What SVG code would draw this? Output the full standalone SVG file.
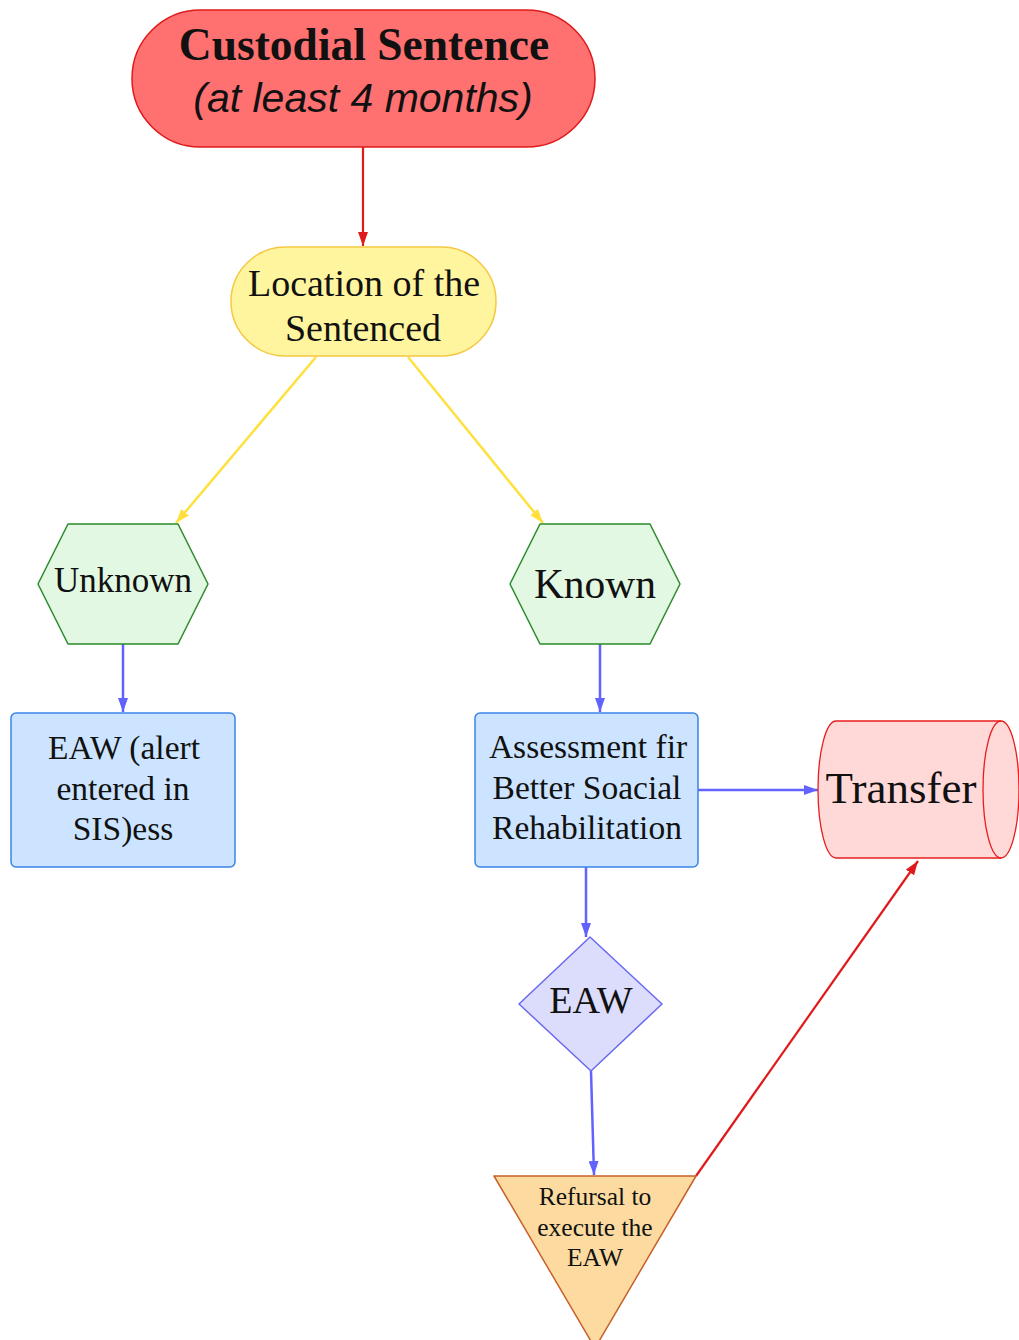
<svg xmlns="http://www.w3.org/2000/svg" width="1019" height="1340" viewBox="0 0 1019 1340">
<defs>
<style>
.serif{font-family:"Liberation Serif","Times New Roman",serif;fill:#111;text-anchor:middle}
.sans{font-family:"Liberation Sans",Arial,sans-serif;fill:#111;text-anchor:middle}
.red{stroke:#e01a1a;stroke-width:2.2;fill:none}
.blue{stroke:#6262ff;stroke-width:2.5;fill:none}
.yellow{stroke:#ffe03c;stroke-width:2.5;fill:none}
</style>
<marker id="ar" viewBox="0 0 14 10" refX="14" refY="5" markerWidth="14" markerHeight="10" markerUnits="userSpaceOnUse" orient="auto"><path d="M0,0L14,5L0,10z" fill="#e01a1a"/></marker>
<marker id="ab" viewBox="0 0 14 10" refX="14" refY="5" markerWidth="14" markerHeight="10" markerUnits="userSpaceOnUse" orient="auto"><path d="M0,0L14,5L0,10z" fill="#6262ff"/></marker>
<marker id="ay" viewBox="0 0 14 10" refX="14" refY="5" markerWidth="14" markerHeight="10" markerUnits="userSpaceOnUse" orient="auto"><path d="M0,0L14,5L0,10z" fill="#ffe03c"/></marker>
</defs>
<rect width="1019" height="1340" fill="#ffffff"/>
<g id="connectors">
<line class="red" x1="363" y1="147" x2="363" y2="246" marker-end="url(#ar)"/>
<line class="yellow" x1="316" y1="357" x2="176" y2="523" marker-end="url(#ay)"/>
<line class="yellow" x1="408" y1="357" x2="543" y2="523" marker-end="url(#ay)"/>
<line class="blue" x1="123" y1="644" x2="123" y2="712" marker-end="url(#ab)"/>
<line class="blue" x1="600" y1="644" x2="600" y2="712" marker-end="url(#ab)"/>
<line class="blue" x1="698" y1="790" x2="818" y2="790" marker-end="url(#ab)"/>
<line class="blue" x1="586" y1="867" x2="586" y2="937" marker-end="url(#ab)"/>
<line class="blue" x1="591" y1="1071" x2="594" y2="1175" marker-end="url(#ab)"/>
<line class="red" x1="696" y1="1176" x2="918" y2="861" marker-end="url(#ar)"/>
</g>
<g id="custodial">
<rect x="132" y="10" width="463" height="137" rx="68.5" fill="#ff7070" stroke="#e01a1a" stroke-width="1.5"/>
<text class="serif" x="364" y="60" font-size="45.5" font-weight="bold">Custodial Sentence</text>
<text class="sans" x="363" y="112" font-size="41" font-style="italic">(at least 4 months)</text>
</g>
<g id="location">
<rect x="231" y="247" width="265" height="109" rx="54.5" fill="#fff59e" stroke="#f5c842" stroke-width="1.5"/>
<text class="serif" x="364" y="296" font-size="38">Location of the</text>
<text class="serif" x="363" y="341" font-size="38">Sentenced</text>
</g>
<g id="unknown">
<path d="M38,584L68,524L178,524L208,584L178,644L68,644Z" fill="#e2f8e2" stroke="#2a8a2a" stroke-width="1.5" stroke-linejoin="round"/>
<text class="serif" x="123" y="592" font-size="35">Unknown</text>
</g>
<g id="known">
<path d="M510,584L540,524L650,524L680,584L650,644L540,644Z" fill="#e2f8e2" stroke="#2a8a2a" stroke-width="1.5" stroke-linejoin="round"/>
<text class="serif" x="595" y="598" font-size="41.5">Known</text>
</g>
<g id="eaw-alert">
<rect x="11" y="713" width="224" height="154" rx="5" fill="#cce4ff" stroke="#3a84e8" stroke-width="1.5"/>
<text class="serif" x="124" y="759" font-size="33.5">EAW (alert</text>
<text class="serif" x="123" y="800" font-size="33.5">entered in</text>
<text class="serif" x="123" y="840" font-size="33.5">SIS)ess</text>
</g>
<g id="assessment">
<rect x="475" y="713" width="223" height="154" rx="5" fill="#cce4ff" stroke="#3a84e8" stroke-width="1.5"/>
<text class="serif" x="588" y="758" font-size="33.5">Assessment fir</text>
<text class="serif" x="587" y="799" font-size="33.5">Better Soacial</text>
<text class="serif" x="587" y="839" font-size="33.5">Rehabilitation</text>
</g>
<g id="transfer">
<path d="M836,721L1001,721A18,68.5 0 0 1 1001,858L836,858A18,68.5 0 0 1 836,721Z" fill="#ffd8d8" stroke="#e81e1e" stroke-width="1.3"/>
<path d="M1001,721A18,68.5 0 0 0 1001,858" fill="none" stroke="#e81e1e" stroke-width="1.3"/>
<text class="serif" x="901" y="803" font-size="45">Transfer</text>
</g>
<g id="eaw">
<path d="M590,937L662,1004L591,1071L519,1004Z" fill="#dcdcfc" stroke="#6a6af0" stroke-width="1.5" stroke-linejoin="round"/>
<text class="serif" x="591" y="1013" font-size="38">EAW</text>
</g>
<g id="refusal">
<path d="M494,1176L696,1176L595,1348Z" fill="#fddba0" stroke="#c8602a" stroke-width="1.5" stroke-linejoin="round"/>
<text class="serif" x="595" y="1205" font-size="25.5">Refursal to</text>
<text class="serif" x="595" y="1236" font-size="25.5">execute the</text>
<text class="serif" x="595" y="1266" font-size="25.5">EAW</text>
</g>
</svg>
